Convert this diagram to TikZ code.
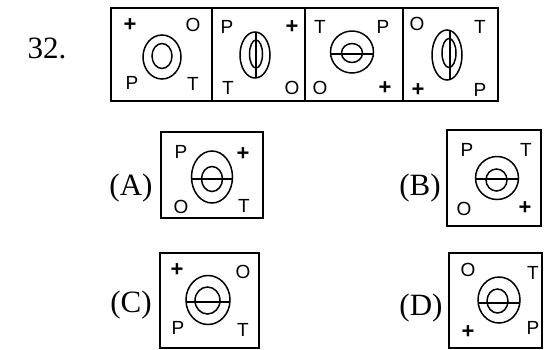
\documentclass[tikz,border=0pt]{standalone}
\usepackage{fontspec}
\setmainfont{Liberation Serif}
\newfontfamily\lblfont{Liberation Sans}
\usetikzlibrary{positioning}

\begin{document}
\begin{tikzpicture}[x=1pt, y=-1pt,
    panel/.style={draw, line width=1.6pt},
    ring/.style={draw, line width=1.5pt},
    lbl/.style={font=\lblfont\fontsize{19}{19}\selectfont, inner sep=0},
    plus/.style={font=\lblfont\bfseries\fontsize{22}{22}\selectfont, inner sep=0},
    opt/.style={font=\fontsize{31}{31}\selectfont, inner sep=0}
]
\useasboundingbox (0,0) rectangle (544,349);

% Question number
\node[opt] (num) at (47,48) {32.};

% Series panels
\draw[panel] (111,8) rectangle (212,101);
\draw[panel] (212,8) rectangle (305,101);
\draw[panel] (305,8) rectangle (403,101);
\draw[panel] (403,8) rectangle (498,101);

% Panel 1
\draw[ring] (162,57) ellipse [x radius=19pt, y radius=22pt];
\draw[ring] (162,56) ellipse [x radius=10pt, y radius=12.5pt];
\node[plus] (s1a) at (130,25) {+};
\node[lbl] (s1b) at (193,25) {O};
\node[lbl] (s1c) at (132,83) {P};
\node[lbl] (s1d) at (193,84) {T};

% Panel 2
\draw[ring] (255,55) ellipse [x radius=15pt, y radius=23pt];
\draw[ring] (256,54) ellipse [x radius=6.5pt, y radius=14pt];
\draw[ring] (256,32) -- (256,78);
\node[lbl] (s2a) at (227,27) {P};
\node[plus] (s2b) at (292,27) {+};
\node[lbl] (s2c) at (228,88) {T};
\node[lbl] (s2d) at (292,88) {O};

% Panel 3
\draw[ring] (352,52) ellipse [x radius=21.5pt, y radius=21pt];
\draw[ring] (352,53) ellipse [x radius=10.5pt, y radius=9.5pt];
\draw[ring] (330.5,54) -- (373.5,54);
\node[lbl] (s3a) at (320,27) {T};
\node[lbl] (s3b) at (383,27) {P};
\node[lbl] (s3c) at (320,88) {O};
\node[plus] (s3d) at (385,88) {+};

% Panel 4
\draw[ring] (447,55) ellipse [x radius=15pt, y radius=25pt];
\draw[ring] (449,53) ellipse [x radius=7pt, y radius=14.5pt];
\draw[ring] (450,30) -- (450,80);
\node[lbl] (s4a) at (417,24) {O};
\node[lbl] (s4b) at (480,27) {T};
\node[plus] (s4c) at (418,90) {+};
\node[lbl] (s4d) at (480,90) {P};

% Option A
\node[opt] (optA) at (131,188) {(A)};
\draw[panel] (161,132) rectangle (263,218);
\draw[ring] (212,177) ellipse [x radius=20.5pt, y radius=26pt];
\draw[ring] (212,179) ellipse [x radius=10.5pt, y radius=12.5pt];
\draw[ring] (191.5,179) -- (232.5,179);
\node[lbl] (a1) at (181,152) {P};
\node[plus] (a2) at (243,154) {+};
\node[lbl] (a3) at (181,207) {O};
\node[lbl] (a4) at (244,206) {T};

% Option B
\node[opt] (optB) at (420,188) {(B)};
\draw[panel] (447,130) rectangle (541,226);
\draw[ring] (497,178) circle [radius=21.5pt];
\draw[ring] (496.5,180) ellipse [x radius=10.5pt, y radius=11pt];
\draw[ring] (475.5,179) -- (518.5,179);
\node[lbl] (b1) at (467,150) {P};
\node[lbl] (b2) at (526,150) {T};
\node[lbl] (b3) at (464,209) {O};
\node[plus] (b4) at (525,208) {+};

% Option C
\node[opt] (optC) at (131,305) {(C)};
\draw[panel] (160,253) rectangle (259,348);
\draw[ring] (208,300) ellipse [x radius=22pt, y radius=24.5pt];
\draw[ring] (207.5,300.5) ellipse [x radius=12.5pt, y radius=13.5pt];
\draw[ring] (186,302) -- (230,302);
\node[plus] (c1) at (177,270) {+};
\node[lbl] (c2) at (243,272) {O};
\node[lbl] (c3) at (178,328) {P};
\node[lbl] (c4) at (243,330) {T};

% Option D
\node[opt] (optD) at (421,308) {(D)};
\draw[panel] (449,253) rectangle (542,348);
\draw[ring] (499,300) ellipse [x radius=21pt, y radius=23pt];
\draw[ring] (497.5,301) ellipse [x radius=10.5pt, y radius=12pt];
\draw[ring] (478,303) -- (520,303);
\node[lbl] (d1) at (468,270) {O};
\node[lbl] (d2) at (533,273) {T};
\node[plus] (d3) at (468,332) {+};
\node[lbl] (d4) at (533,328) {P};
\end{tikzpicture}
\end{document}
